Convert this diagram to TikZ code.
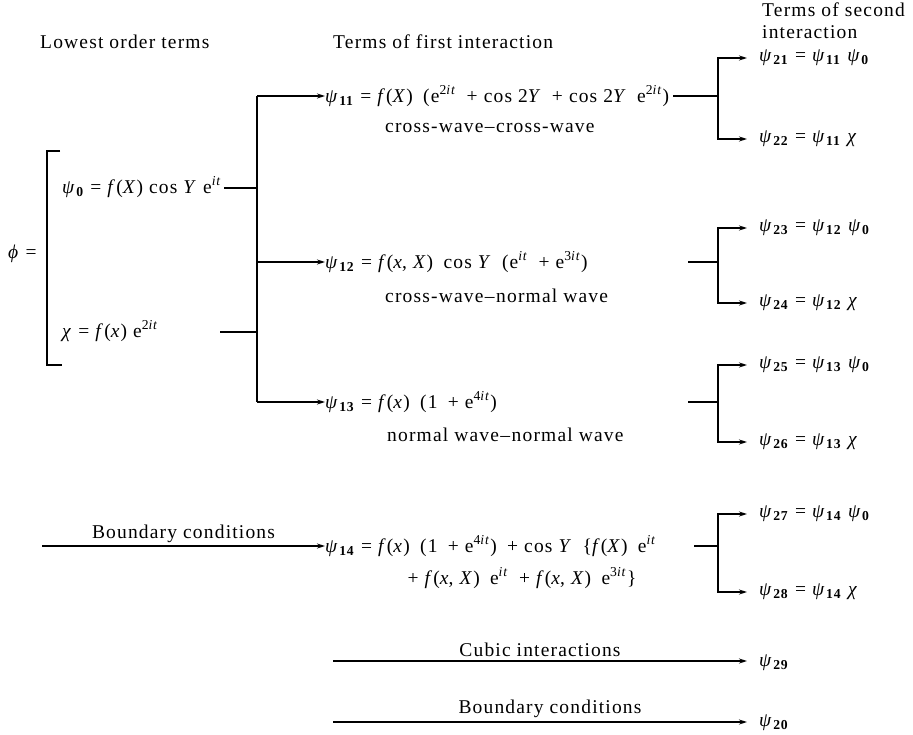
\documentclass[tikz,border=0pt]{standalone}
\usepackage{fontspec}
\setmainfont{Liberation Serif}[LetterSpace=6]
\usetikzlibrary{arrows.meta}
\newcommand{\ps}[1]{\textit{ψ}\kern0.5pt\textsubscript{\textbf{#1}}}
\newcommand{\spx}[1]{\textsuperscript{#1}}
\newcommand{\ii}[1]{\textit{#1}}
\newcommand{\sk}{\hspace{0.22em}}
\newcommand{\dsh}{\kern1.5pt–\kern1.5pt}
\begin{document}
\begin{tikzpicture}[x=1pt,y=-1pt,
  txt/.style={anchor=west,inner sep=0pt,font=\fontsize{19.5}{25}\selectfont},
  lbl/.style={font=\fontsize{19.5}{25}\selectfont,inner sep=3pt},
  res/.style={anchor=west,inner xsep=12pt,inner ysep=0pt,font=\fontsize{19.5}{25}\selectfont},
  ln/.style={line width=1.3pt},
  arr/.style={line width=1.3pt,-{Stealth[length=8pt,width=5pt]}}]
\useasboundingbox (0,0) rectangle (913,735);
% headers
\node[txt] (h1) at (40,42) {Lowest order terms};
\node[txt] (h2) at (333,42) {Terms of first interaction};
\node[txt,align=left,font=\fontsize{19.5}{22}\selectfont] (h3) at (762,21) {Terms of second\\interaction};
% bracket
\node[txt] (phi) at (8,254) {\ii{ϕ} =};
\coordinate (bt) at (60,151);
\coordinate (bb) at (62,365);
\draw[ln] (bt) -- (47,151) -- (47,365) -- (bb);
\node[txt] (psi0) at (62,187) {\ps{0} = \ii{f}(\ii{X}) cos \ii{Y} e\spx{\ii{it}}};
\node[txt] (chi) at (62,331) {\ii{χ} = \ii{f}(\ii{x}) e\spx{2\ii{it}}};
\coordinate (chiend) at (220,332);
% trunk
\coordinate (tr0) at (257,188);
\coordinate (trx) at (257,332);
\coordinate (tr11) at (257,96);
\coordinate (tr12) at (257,262);
\coordinate (tr13) at (257,402);
\draw[ln] (psi0.east |- tr0) ++(2,0) -- (tr0);
\draw[ln] (chiend) -- (trx);
\draw[ln] (tr11) -- (tr13);
% first interaction
\node[txt] (psi11) at (325,96) {\ps{11} = \ii{f}(\ii{X})\sk{} (e\spx{2\ii{it}}\sk{} + cos 2\ii{Y}\sk{} + cos 2\ii{Y}\sk{} e\spx{2\ii{it}})};
\node[txt] (cw1) at (385,128) {cross-wave\dsh cross-wave};
\node[txt] (psi12) at (325,262) {\ps{12} = \ii{f}(\ii{x}, \ii{X})\sk{} cos \ii{Y}\sk{} (e\spx{\ii{it}}\sk{} + e\spx{3\ii{it}})};
\node[txt] (cw2) at (385,296) {cross-wave\dsh normal wave};
\node[txt] (psi13) at (325,402) {\ps{13} = \ii{f}(\ii{x})\sk{} (1\sk{} + e\spx{4\ii{it}})};
\node[txt] (cw3) at (387,435) {normal wave\dsh normal wave};
\draw[arr] (tr11) -- (psi11.west |- tr11);
\draw[arr] (tr12) -- (psi12.west |- tr12);
\draw[arr] (tr13) -- (psi13.west |- tr13);
% boundary conditions -> psi14
\coordinate (bcs) at (42,546);
\node[txt] (psi14) at (325,546) {\ps{14} = \ii{f}(\ii{x})\sk{} (1\sk{} + e\spx{4\ii{it}})\sk{} + cos \ii{Y}\sk{} \{\ii{f}(\ii{X})\sk{} e\spx{\ii{it}}};
\node[txt,anchor=center] (psi14b) at (522,578) {+ \ii{f}(\ii{x}, \ii{X})\sk{} e\spx{\ii{it}}\sk{} + \ii{f}(\ii{x}, \ii{X})\sk{} e\spx{3\ii{it}}\}};
\draw[arr] (bcs) -- node[lbl,above] {Boundary conditions} (psi14.west |- bcs);
% second interaction
\coordinate (b11) at (718,96);
\coordinate (c12) at (688,262);
\coordinate (b12) at (718,262);
\coordinate (c13) at (688,402);
\coordinate (b13) at (718,402);
\coordinate (c14) at (694,546);
\coordinate (b14) at (718,546);
\node[res] (psi21) at (747,58) {\ps{21} = \ps{11} \ps{0}};
\node[res] (psi22) at (747,139) {\ps{22} = \ps{11} \ii{χ}};
\node[res] (psi23) at (747,228) {\ps{23} = \ps{12} \ps{0}};
\node[res] (psi24) at (747,303) {\ps{24} = \ps{12} \ii{χ}};
\node[res] (psi25) at (747,365) {\ps{25} = \ps{13} \ps{0}};
\node[res] (psi26) at (747,442) {\ps{26} = \ps{13} \ii{χ}};
\node[res] (psi27) at (747,514) {\ps{27} = \ps{14} \ps{0}};
\node[res] (psi28) at (747,592) {\ps{28} = \ps{14} \ii{χ}};
\draw[ln] (psi11.east |- b11) ++(4,0) -- (b11);
\draw[ln] (c12) -- (b12);
\draw[ln] (c13) -- (b13);
\draw[ln] (c14) -- (b14);
\draw[arr] (b11) |- (psi21.west);
\draw[arr] (b11) |- (psi22.west);
\draw[arr] (b12) |- (psi23.west);
\draw[arr] (b12) |- (psi24.west);
\draw[arr] (b13) |- (psi25.west);
\draw[arr] (b13) |- (psi26.west);
\draw[arr] (b14) |- (psi27.west);
\draw[arr] (b14) |- (psi28.west);
% cubic and boundary
\coordinate (cus) at (333,661);
\node[res] (psi29) at (747,663) {\ps{29}};
\draw[arr] (cus) -- node[lbl,above,yshift=1pt] {Cubic interactions} (cus -| psi29.west);
\coordinate (bc2) at (333,722);
\node[res] (psi20) at (747,723) {\ps{20}};
\draw[arr] (bc2) -- node[lbl,above,yshift=1pt,xshift=10pt] {Boundary conditions} (bc2 -| psi20.west);
\end{tikzpicture}
\end{document}
